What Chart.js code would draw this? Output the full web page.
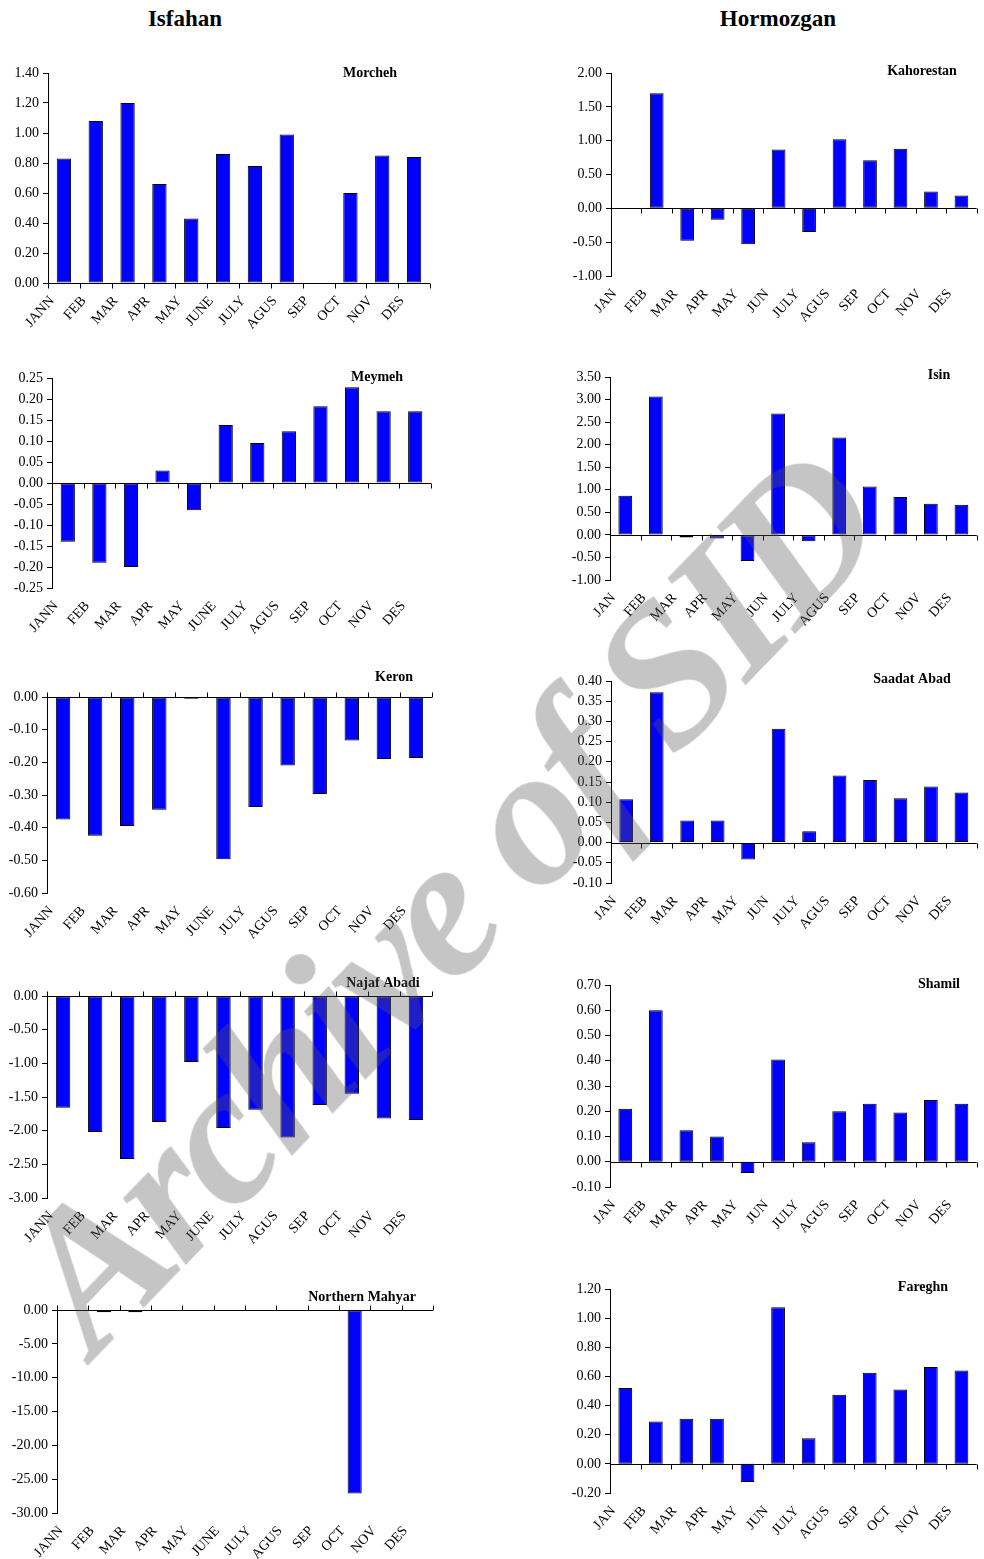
<!DOCTYPE html>
<html>
<head>
<meta charset="utf-8">
<script src="https://cdn.jsdelivr.net/npm/chart.js@4.4.1/dist/chart.umd.min.js"></script>
<style>
  body { margin: 0; width: 984px; height: 1559px; overflow: hidden; position: relative; background: #fff; }
  canvas { position: absolute; }
  .head { position: absolute; top: 7px; font: bold 23px "Liberation Serif", serif; line-height: 1; transform: translateX(-50%); }
  #mark {
    position: absolute; left: 445px; top: 900px; z-index: 10; pointer-events: none; white-space: nowrap;
    font: italic bold 200px "Liberation Serif", serif; line-height: 1; letter-spacing: -7px;
    color: rgba(90,90,90,0.35);
    transform: translate(-50%, -50%) rotate(-46deg);
  }
</style>
</head>
<body>
<div class="head" style="left:185px">Isfahan</div>
<div class="head" style="left:778px">Hormozgan</div>
<div id="mark">Archive of SID</div>

<script>
// month labels (two spellings, as in the figure)
const isfMonths = ['JANN', 'FEB', 'MAR', 'APR', 'MAY', 'JUNE', 'JULY', 'AGUS', 'SEP', 'OCT', 'NOV', 'DES'];
const hrmMonths = ['JAN', 'FEB', 'MAR', 'APR', 'MAY', 'JUN', 'JULY', 'AGUS', 'SEP', 'OCT', 'NOV', 'DES'];

// Isfahan stations
const morcheh = [0.83, 1.08, 1.20, 0.66, 0.43, 0.86, 0.78, 0.99, null, 0.60, 0.85, 0.84];
const meymeh = [-0.14, -0.19, -0.20, 0.03, -0.065, 0.138, 0.095, 0.123, 0.183, 0.228, 0.171, 0.171];
const keron = [-0.375, -0.425, -0.395, -0.345, -0.005, -0.497, -0.337, -0.21, -0.297, -0.133, -0.19, -0.187];
const najafAbadi = [-1.66, -2.02, -2.42, -1.87, -0.98, -1.96, -1.69, -2.10, -1.62, -1.45, -1.82, -1.84];
const northernMahyar = [-0.1, -0.35, -0.35, -0.1, -0.1, -0.1, -0.1, -0.1, -0.1, -27.1, -0.1, -0.1];

// Hormozgan stations
const kahorestan = [null, 1.70, -0.48, -0.17, -0.53, 0.87, -0.35, 1.02, 0.71, 0.88, 0.25, 0.19];
const isin = [0.87, 3.07, -0.06, -0.08, -0.58, 2.69, -0.14, 2.16, 1.07, 0.84, 0.69, 0.67];
const saadatAbad = [0.107, 0.372, 0.055, 0.055, -0.042, 0.282, 0.028, 0.166, 0.155, 0.11, 0.139, 0.124];
const shamil = [0.21, 0.60, 0.125, 0.10, -0.045, 0.405, 0.077, 0.20, 0.23, 0.195, 0.245, 0.23];
const fareghn = [0.52, 0.29, 0.31, 0.31, -0.125, 1.075, 0.175, 0.475, 0.625, 0.51, 0.665, 0.64];

// y axis: [min, max, step]
const morchehAxis = [0, 1.4, 0.2];
const meymehAxis = [-0.25, 0.25, 0.05];
const keronAxis = [-0.6, 0, 0.1];
const najafAxis = [-3, 0, 0.5];
const mahyarAxis = [-30, 0, 5];
const kahorestanAxis = [-1, 2, 0.5];
const isinAxis = [-1, 3.5, 0.5];
const saadatAxis = [-0.1, 0.4, 0.05];
const shamilAxis = [-0.1, 0.7, 0.1];
const fareghnAxis = [-0.2, 1.2, 0.2];

// where each panel sits on the page: plot [left, right, top, bottom], title centre [x, y]
const panels = [
  { name: 'Morcheh', labels: isfMonths, values: morcheh, axis: morchehAxis, plot: [48, 430, 73, 283], title: [370, 73] },
  { name: 'Meymeh', labels: isfMonths, values: meymeh, axis: meymehAxis, plot: [52, 431, 378, 588], title: [377, 377] },
  { name: 'Keron', labels: isfMonths, values: keron, axis: keronAxis, plot: [47, 432, 697, 893], title: [394, 677] },
  { name: 'Najaf Abadi', labels: isfMonths, values: najafAbadi, axis: najafAxis, plot: [47, 432, 996, 1198], title: [383, 983] },
  { name: 'Northern Mahyar', labels: isfMonths, values: northernMahyar, axis: mahyarAxis, plot: [57, 433, 1310, 1513], title: [362, 1297] },
  { name: 'Kahorestan', labels: hrmMonths, values: kahorestan, axis: kahorestanAxis, plot: [611, 982, 73, 276], title: [922, 71] },
  { name: 'Isin', labels: hrmMonths, values: isin, axis: isinAxis, plot: [610, 982, 377, 580], title: [939, 375] },
  { name: 'Saadat Abad', labels: hrmMonths, values: saadatAbad, axis: saadatAxis, plot: [611, 982, 681, 883], title: [912, 679] },
  { name: 'Shamil', labels: hrmMonths, values: shamil, axis: shamilAxis, plot: [610, 982, 985, 1187], title: [939, 984] },
  { name: 'Fareghn', labels: hrmMonths, values: fareghn, axis: fareghnAxis, plot: [610, 982, 1289, 1493], title: [923, 1287] }
];

const serif = 'Liberation Serif';

// zero line with Excel-like category ticks, plus the station name
const zeroAxis = {
  id: 'zeroAxis',
  afterDatasetsDraw(chart, args, opts) {
    const { ctx, chartArea, scales: { x, y } } = chart;
    const y0 = Math.round(y.getPixelForValue(0)) + 0.5;
    const dir = y.max <= 0 ? -1 : 1;
    ctx.save();
    ctx.strokeStyle = '#000';
    ctx.lineWidth = 1;
    ctx.beginPath();
    ctx.moveTo(chartArea.left, y0);
    ctx.lineTo(chartArea.right, y0);
    for (let i = 0; i <= x.ticks.length; i++) {
      const px = Math.round(x.getPixelForValue(i - 0.5)) + 0.5;
      ctx.moveTo(px, y0);
      ctx.lineTo(px, y0 + dir * 5);
    }
    ctx.stroke();
    ctx.fillStyle = '#000';
    ctx.font = 'bold 14px "' + serif + '"';
    ctx.textAlign = 'center';
    ctx.textBaseline = 'middle';
    ctx.fillText(opts.text, opts.x, opts.y);
    ctx.restore();
  }
};

panels.forEach((p, i) => {
  const left = i < 5 ? 0 : 555;
  const right = i < 5 ? 445 : 984;
  const [pl, pr, pt, pb] = p.plot;
  const top = pt - 30;
  const xH = 46;
  const cv = document.createElement('canvas');
  cv.width = right - left;
  cv.height = pb + xH - top;
  cv.style.left = left + 'px';
  cv.style.top = top + 'px';
  document.body.insertBefore(cv, document.getElementById('mark'));

  new Chart(cv.getContext('2d'), {
    type: 'bar',
    data: {
      labels: p.labels,
      datasets: [{
        data: p.values,
        backgroundColor: '#0000ff',
        borderColor: '#000',
        borderWidth: 1,
        borderSkipped: false,
        barPercentage: 0.45,
        categoryPercentage: 1.0
      }]
    },
    options: {
      responsive: false,
      animation: false,
      layout: { padding: { top: 30, left: 0, right: right - pr, bottom: 0 } },
      plugins: {
        legend: { display: false },
        tooltip: { enabled: false },
        zeroAxis: { text: p.name, x: p.title[0] - left, y: p.title[1] - top }
      },
      scales: {
        x: {
          offset: true,
          grid: { display: false, drawTicks: false },
          border: { display: false },
          ticks: {
            autoSkip: false, maxRotation: 48, minRotation: 48, padding: 10, labelOffset: -12,
            color: '#000', font: { family: serif, size: 14 }
          },
          afterFit(s) { s.height = xH; }
        },
        y: {
          min: p.axis[0],
          max: p.axis[1],
          grid: { drawOnChartArea: false, drawTicks: true, tickLength: 5, color: '#000' },
          border: { display: true, color: '#000' },
          ticks: {
            stepSize: p.axis[2], padding: 4, color: '#000', font: { family: serif, size: 14 },
            callback: v => (Math.abs(v) < 1e-9 ? 0 : v).toFixed(2)
          },
          afterFit(s) { s.width = pl - left; }
        }
      }
    },
    plugins: [zeroAxis]
  });
});
</script>
</body>
</html>
